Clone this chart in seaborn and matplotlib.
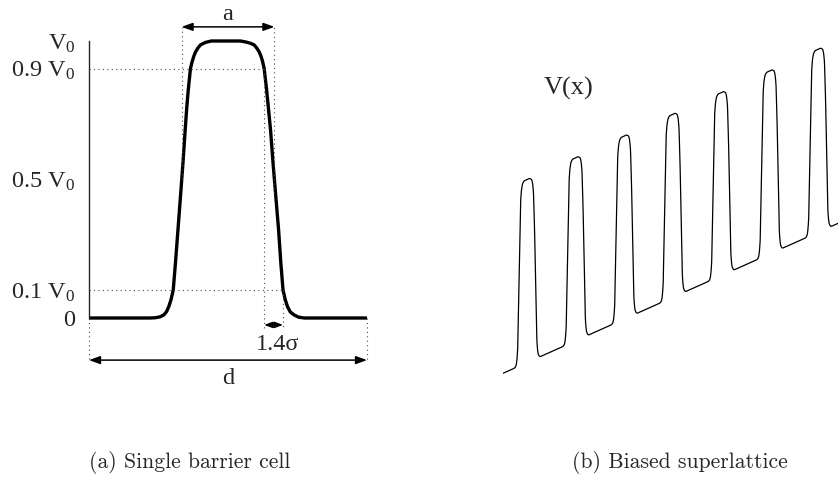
import numpy as np
import pandas as pd
import matplotlib
matplotlib.use("Agg")
import matplotlib.pyplot as plt
import seaborn as sns

# Single barrier profile over one cell: x in units of the cell length d, V in units of V0
cell_x = [0.000, 0.221, 0.239, 0.255, 0.269, 0.279, 0.287, 0.295, 0.303, 0.311,
          0.320, 0.329, 0.338, 0.346, 0.351, 0.357, 0.365, 0.371, 0.377, 0.383,
          0.392, 0.401, 0.419, 0.440, 0.545, 0.566, 0.580, 0.594, 0.603, 0.612,
          0.618, 0.624, 0.630, 0.639, 0.646, 0.653, 0.662, 0.672, 0.682, 0.690,
          0.698, 0.706, 0.714, 0.724, 0.738, 0.754, 0.774, 1.000]
cell_v = [0.000, 0.000, 0.001, 0.004, 0.011, 0.023, 0.041, 0.066, 0.101, 0.199,
          0.318, 0.438, 0.560, 0.679, 0.751, 0.823, 0.901, 0.925, 0.945, 0.960,
          0.975, 0.986, 0.995, 1.000, 1.000, 0.996, 0.992, 0.986, 0.975, 0.961,
          0.947, 0.928, 0.901, 0.823, 0.751, 0.679, 0.560, 0.438, 0.318, 0.199,
          0.101, 0.066, 0.041, 0.022, 0.011, 0.003, 0.000, 0.000]

# Reference levels on the potential axis
level_values = [0.0, 0.1, 0.5, 0.9, 1.0]
level_labels = ["0", "0.1 V$_0$", "0.5 V$_0$", "0.9 V$_0$", "V$_0$"]

# Characteristic positions within the cell
a_left, a_right = 0.333, 0.667        # half-maximum points (barrier width a)
edge_hi, edge_lo = 0.630, 0.698       # 90 % and 10 % points of the falling edge (1.4 sigma)

# Biased superlattice: number of cells and potential rise per cell (units of V0)
n_cells = 7
bias_per_cell = 0.1186

captions = ["(a) Single barrier cell", "(b) Biased superlattice"]

sns.set_style("white")
plt.rcParams["font.family"] = ["Liberation Serif", "DejaVu Serif"]
plt.rcParams["mathtext.fontset"] = "custom"
plt.rcParams["mathtext.rm"] = "Liberation Serif"
plt.rcParams["mathtext.it"] = "Liberation Serif:italic"

W, H = 838, 486
fig = plt.figure(figsize=(W / 100, H / 100), dpi=100)

# ---- (a) single barrier cell ----
ax1 = fig.add_axes([89 / W, 1 - 318 / H, 278 / W, 277 / H])
cell = pd.DataFrame({"x": cell_x, "V": cell_v})
sns.lineplot(data=cell, x="x", y="V", ax=ax1, color="black", linewidth=2.4,
             estimator=None, sort=False, clip_on=False, solid_joinstyle="round",
             solid_capstyle="butt")
ax1.set_xlim(0, 1)
ax1.set_ylim(0, 1)
sns.despine(ax=ax1, bottom=True)
ax1.spines["left"].set_linewidth(1.0)
ax1.set_xticks([])
ax1.set_yticks(level_values)
ax1.set_yticklabels(level_labels)
ax1.tick_params(axis="y", direction="in", length=5, width=1.0, pad=10, labelsize=17.5)
ax1.set_xlabel("")
ax1.set_ylabel("")
ax1.patch.set_alpha(0)

dot = dict(color="0.3", linewidth=0.8, linestyle=(0, (1, 3)), clip_on=False)
y_a = 1.051
y_sig = -0.025
y_d = -0.152
# horizontal guides at 0.9 V0 and 0.1 V0
ax1.plot([0, edge_hi], [0.9, 0.9], **dot)
ax1.plot([0, edge_lo], [0.1, 0.1], **dot)
# vertical guides for a
ax1.plot([a_left, a_left], [0.5, y_a], **dot)
ax1.plot([a_right, a_right], [0.45, y_a], **dot)
# vertical guides for 1.4 sigma
ax1.plot([edge_hi, edge_hi], [0.9, y_sig - 0.01], **dot)
ax1.plot([edge_lo, edge_lo], [0.1, y_sig - 0.01], **dot)
# vertical guides for d
ax1.plot([0, 0], [0, y_d], **dot)
ax1.plot([1, 1], [0, y_d], **dot)

arrow = dict(arrowstyle="<|-|>,head_length=0.55,head_width=0.2", color="black",
             lw=1.1, shrinkA=0, shrinkB=0, mutation_scale=12)
ax1.annotate("", xy=(a_left, y_a), xytext=(a_right, y_a), arrowprops=arrow,
             annotation_clip=False)
ax1.annotate("", xy=(edge_hi, y_sig), xytext=(edge_lo, y_sig),
             arrowprops=dict(arrow, arrowstyle="<|-|>,head_length=0.4,head_width=0.15"),
             annotation_clip=False)
ax1.annotate("", xy=(0, y_d), xytext=(1, y_d), arrowprops=arrow,
             annotation_clip=False)

lab = dict(ha="center", va="center", fontsize=17.5, clip_on=False)
ax1.text(0.5, 1.094, "a", **lab)
ax1.text(0.68, -0.097, "1.4σ", **lab)
ax1.text(0.5, -0.217, "d", **lab)

# ---- (b) biased superlattice ----
sl_x, sl_v = [], []
for k in range(n_cells):
    start = 0 if k == 0 else 1
    for xp, vp in zip(cell_x[start:], cell_v[start:]):
        sl_x.append(k + xp)
        sl_v.append(vp + bias_per_cell * (k + xp))
lattice = pd.DataFrame({"x": sl_x, "V": sl_v})

ax2 = fig.add_axes([503 / W, 1 - 380 / H, 335 / W, 340 / H])
sns.lineplot(data=lattice, x="x", y="V", ax=ax2, color="black", linewidth=0.9,
             estimator=None, sort=False, solid_joinstyle="round")
ax2.set_xlim(0, 335 / 48.5)
ax2.set_ylim(-0.0366, 1.8213)
ax2.set_axis_off()

fig.text(569 / W, 1 - 88 / H, "V(x)", ha="center", va="center", fontsize=19)

fig.text(190 / W, 1 - 462 / H, captions[0], ha="center", va="center",
         family="cmr10", fontsize=15.6)
fig.text(680 / W, 1 - 462 / H, captions[1], ha="center", va="center",
         family="cmr10", fontsize=15.6)

fig.savefig("out.png", dpi=100, facecolor="white")
